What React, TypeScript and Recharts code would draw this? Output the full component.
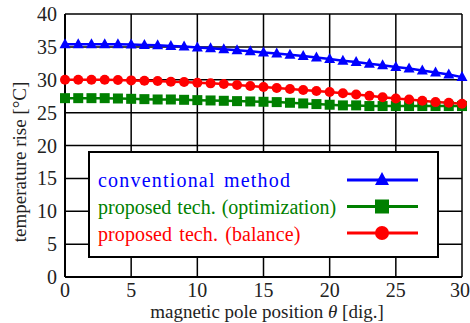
import React from "react";
import { LineChart, Line, XAxis, YAxis, CartesianGrid } from "recharts";

const theta = Array.from({ length: 31 }, (_, i) => i);
const conventional = [35.4, 35.4, 35.4, 35.4, 35.4, 35.35, 35.3, 35.25, 35.15, 35.05, 34.9, 34.8, 34.65, 34.5, 34.35, 34.15, 34.0, 33.8, 33.6, 33.4, 33.15, 32.9, 32.7, 32.45, 32.2, 31.95, 31.7, 31.4, 31.1, 30.8, 30.4];
const optimization = [27.2, 27.2, 27.2, 27.2, 27.15, 27.1, 27.05, 27.0, 27.0, 26.95, 26.9, 26.85, 26.8, 26.75, 26.7, 26.65, 26.6, 26.5, 26.4, 26.3, 26.2, 26.1, 26.1, 26.0, 26.0, 26.0, 26.0, 26.0, 26.0, 26.0, 26.0];
const balance = [30.0, 30.0, 30.0, 30.0, 29.95, 29.9, 29.85, 29.8, 29.7, 29.65, 29.55, 29.45, 29.35, 29.2, 29.05, 28.9, 28.75, 28.6, 28.45, 28.3, 28.15, 27.95, 27.75, 27.55, 27.35, 27.15, 27.0, 26.8, 26.6, 26.5, 26.35];
const xTicks = [0, 5, 10, 15, 20, 25, 30];
const yTicks = [0, 5, 10, 15, 20, 25, 30, 35, 40];
const seriesNames = ["conventional method", "proposed tech. (optimization)", "proposed tech. (balance)"];
const xLabelParts = ["magnetic pole position ", "θ", " [dig.]"];
const yLabel = "temperature rise [°C]";

const data = theta.map((t, i) => ({
  t,
  conventional: conventional[i],
  optimization: optimization[i],
  balance: balance[i],
}));

const Tri = (props: any) => {
  const { cx, cy, stroke } = props;
  if (cx == null || cy == null) return null;
  return <polygon points={`${cx},${cy - 6} ${cx - 5.5},${cy + 4} ${cx + 5.5},${cy + 4}`} fill={stroke} />;
};
const Sq = (props: any) => {
  const { cx, cy, stroke } = props;
  if (cx == null || cy == null) return null;
  return <rect x={cx - 5} y={cy - 5} width={10} height={10} fill={stroke} />;
};
const Circ = (props: any) => {
  const { cx, cy, stroke } = props;
  if (cx == null || cy == null) return null;
  return <circle cx={cx} cy={cy} r={5} fill={stroke} />;
};

const colors = ["#0000ff", "#008000", "#ff0000"];
const letterSp = [1.2, 0, 0.1];
const wordSp = [2, 1, 2];
const serif = "Liberation Serif, Times New Roman, serif";

const XLabel = () => (
  <text x={267} y={318} textAnchor="middle" fill="#222" fontSize={19} fontFamily={serif}>
    <tspan>{xLabelParts[0]}</tspan>
    <tspan fontStyle="italic">{xLabelParts[1]}</tspan>
    <tspan>{xLabelParts[2]}</tspan>
  </text>
);

const YLabel = () => (
  <text x={26} y={162} transform="rotate(-90 26 162)" textAnchor="middle" fill="#222" fontSize={19} fontFamily={serif}>
    {yLabel}
  </text>
);

const LegendBox = () => (
  <div
    style={{
      position: "absolute",
      left: 88,
      top: 151,
      width: 351,
      height: 107,
      border: "2px solid #000",
      background: "#fff",
      boxSizing: "border-box",
      fontFamily: serif,
      fontSize: 20,
    }}
  >
    {seriesNames.map((n, i) => (
      <div
        key={n}
        style={{
          position: "absolute",
          left: 8,
          top: 17 + i * 27,
          color: colors[i],
          lineHeight: "20px",
          whiteSpace: "nowrap",
          wordSpacing: wordSp[i],
          letterSpacing: letterSp[i],
        }}
      >
        {n}
      </div>
    ))}
    <svg width={351} height={107} style={{ position: "absolute", left: -2, top: -2 }}>
      {colors.map((c, i) => {
        const y = 29 + i * 26.5;
        return (
          <g key={c}>
            <line x1={259} x2={330} y1={y} y2={y} stroke={c} strokeWidth={3} />
            {i === 0 && <polygon points={`294,${y - 8} 287,${y + 5} 301,${y + 5}`} fill={c} />}
            {i === 1 && <rect x={287} y={y - 7} width={14} height={14} fill={c} />}
            {i === 2 && <circle cx={294} cy={y} r={7} fill={c} />}
          </g>
        );
      })}
    </svg>
  </div>
);

export default function App() {
  return (
    <div style={{ position: "absolute", left: 0, top: 0, width: 470, height: 323, background: "#fff" }}>
      <LineChart width={470} height={323} data={data} margin={{ top: 14, right: 8, bottom: 0, left: 0 }}>
        <CartesianGrid stroke="#000" strokeWidth={1.5} horizontalValues={yTicks} verticalValues={xTicks} />
        <XAxis
          dataKey="t"
          type="number"
          domain={[0, 30]}
          ticks={xTicks}
          tickLine={false}
          axisLine={{ stroke: "#000", strokeWidth: 2 }}
          height={46}
          tick={{ fill: "#222", fontSize: 20, fontFamily: serif }}
          tickMargin={0}
          label={<XLabel />}
        />
        <YAxis
          type="number"
          domain={[0, 40]}
          ticks={yTicks}
          tickLine={false}
          axisLine={{ stroke: "#000", strokeWidth: 2 }}
          width={65}
          tick={{ fill: "#222", fontSize: 20, fontFamily: serif }}
          tickMargin={2}
          label={<YLabel />}
        />
        <Line dataKey="conventional" name={seriesNames[0]} stroke={colors[0]} strokeWidth={2.5} dot={<Tri />} isAnimationActive={false} />
        <Line dataKey="optimization" name={seriesNames[1]} stroke={colors[1]} strokeWidth={2.5} dot={<Sq />} isAnimationActive={false} />
        <Line dataKey="balance" name={seriesNames[2]} stroke={colors[2]} strokeWidth={2.5} dot={<Circ />} isAnimationActive={false} />
      </LineChart>
      <LegendBox />
    </div>
  );
}
